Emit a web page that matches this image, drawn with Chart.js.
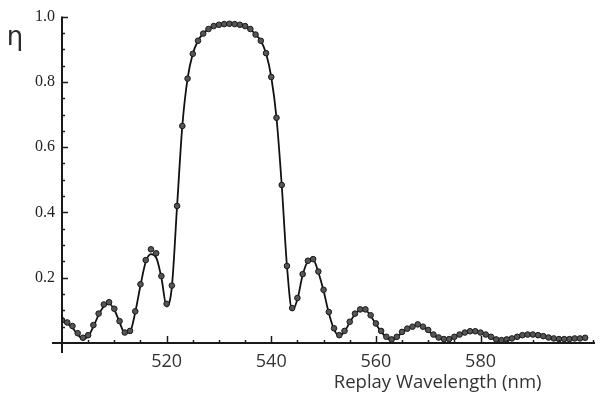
<!DOCTYPE html>
<html>
<head>
<meta charset="utf-8">
<script src="https://cdn.jsdelivr.net/npm/chart.js@4/dist/chart.umd.min.js"></script>
<style>
  html, body { margin: 0; padding: 0; background: #fff; }
  #wrap { width: 601px; height: 403px; position: relative; }
</style>
</head>
<body>
<div id="wrap"><canvas id="chart"></canvas></div>
<script>
// replay wavelength, nm (one measurement per nm)
const wavelengths = [];
for (let nm = 500; nm <= 600; nm++) wavelengths.push(nm);

// measured diffraction efficiency (dots)
const measured = [
  0.070, 0.063, 0.052, 0.030, 0.016, 0.024, 0.055, 0.090, 0.118, 0.125,
  0.105, 0.067, 0.032, 0.037, 0.097, 0.180, 0.254, 0.287, 0.275, 0.205,
  0.120, 0.176, 0.420, 0.665, 0.810, 0.886, 0.926, 0.948, 0.962, 0.971,
  0.975, 0.977, 0.978, 0.977, 0.975, 0.971, 0.962, 0.945, 0.926, 0.888,
  0.815, 0.690, 0.484, 0.236, 0.107, 0.138, 0.211, 0.252, 0.257, 0.219,
  0.163, 0.095, 0.045, 0.024, 0.037, 0.065, 0.090, 0.103, 0.103, 0.085,
  0.060, 0.037, 0.019, 0.011, 0.019, 0.034, 0.044, 0.050, 0.057, 0.050,
  0.040, 0.026, 0.017, 0.012, 0.012, 0.019, 0.026, 0.032, 0.036, 0.036,
  0.032, 0.026, 0.019, 0.011, 0.009, 0.011, 0.014, 0.019, 0.024, 0.026,
  0.026, 0.024, 0.021, 0.017, 0.014, 0.012, 0.012, 0.012, 0.014, 0.014,
  0.016
];

// theory curve (solid line)
const theory = [
  0.066, 0.060, 0.046, 0.026, 0.012, 0.020, 0.050, 0.086, 0.112, 0.120,
  0.102, 0.064, 0.030, 0.034, 0.094, 0.176, 0.248, 0.272, 0.262, 0.200,
  0.112, 0.172, 0.420, 0.665, 0.810, 0.886, 0.926, 0.948, 0.962, 0.971,
  0.975, 0.977, 0.978, 0.977, 0.975, 0.971, 0.962, 0.945, 0.926, 0.888,
  0.815, 0.690, 0.484, 0.236, 0.100, 0.134, 0.208, 0.250, 0.255, 0.217,
  0.160, 0.092, 0.042, 0.022, 0.035, 0.063, 0.088, 0.101, 0.101, 0.083,
  0.058, 0.035, 0.017, 0.009, 0.017, 0.032, 0.043, 0.049, 0.055, 0.048,
  0.038, 0.024, 0.015, 0.010, 0.010, 0.017, 0.024, 0.030, 0.034, 0.034,
  0.030, 0.024, 0.017, 0.009, 0.007, 0.009, 0.012, 0.017, 0.022, 0.024,
  0.024, 0.022, 0.019, 0.015, 0.012, 0.010, 0.010, 0.010, 0.012, 0.012,
  0.014
];

const xLabels = [520, 540, 560, 580];
const yLabels = [0.2, 0.4, 0.6, 0.8, 1.0];

const AXIS_COLOR = "#1a1a1a";

function isNear(v, list) {
  return list.some(t => Math.abs(t - v) < 1e-6);
}

// inward tick marks, extended axis lines and the two axis titles
const axisDecor = {
  id: "axisDecor",
  afterDraw(chart) {
    const { ctx, chartArea: a, scales: { x, y } } = chart;
    ctx.save();
    ctx.strokeStyle = AXIS_COLOR;
    ctx.lineCap = "butt";

    ctx.lineWidth = 2;
    ctx.beginPath();
    ctx.moveTo(a.left, a.top);
    ctx.lineTo(a.left, a.bottom + 10);
    ctx.moveTo(a.left - 10, a.bottom);
    ctx.lineTo(a.right + 2, a.bottom);
    ctx.stroke();

    ctx.lineWidth = 1.5;
    ctx.beginPath();
    y.ticks.forEach(t => {
      if (t.value <= 0) return;
      const py = Math.round(y.getPixelForValue(t.value)) + 0.5;
      const len = isNear(t.value, yLabels) ? 6 : 3;
      ctx.moveTo(a.left, py);
      ctx.lineTo(a.left + len, py);
    });
    x.ticks.forEach(t => {
      if (t.value <= 500) return;
      const px = Math.round(x.getPixelForValue(t.value)) + 0.5;
      const len = isNear(t.value, xLabels) ? 7 : 3;
      ctx.moveTo(px, a.bottom);
      ctx.lineTo(px, a.bottom - len);
    });
    ctx.stroke();

    ctx.fillStyle = "#2a2a2a";
    ctx.font = "26px 'DejaVu Sans'";
    ctx.textAlign = "center";
    ctx.textBaseline = "middle";
    ctx.fillText("η", 15, 38);

    ctx.fillStyle = "#333";
    ctx.font = "18.5px 'Open Sans'";
    ctx.textBaseline = "middle";
    ctx.fillText("Replay Wavelength (nm)", x.getPixelForValue(571.8), 383);
    ctx.restore();
  }
};

new Chart(document.getElementById("chart"), {
  type: "line",
  data: {
    datasets: [
      {
        label: "theory",
        data: wavelengths.map((w, i) => ({ x: w, y: theory[i] })),
        borderColor: "#111",
        borderWidth: 1.8,
        pointRadius: 0,
        cubicInterpolationMode: "monotone",
        fill: false,
        order: 2,
      },
      {
        label: "measured",
        data: wavelengths.map((w, i) => ({ x: w, y: measured[i] })),
        showLine: false,
        pointRadius: 2.8,
        pointBackgroundColor: "#555",
        pointBorderColor: "#1a1a1a",
        pointBorderWidth: 1,
        order: 1,
      }
    ]
  },
  options: {
    responsive: true,
    maintainAspectRatio: false,
    animation: false,
    events: [],
    layout: { padding: { left: 0, top: 13, right: 1, bottom: 0 } },
    plugins: {
      legend: { display: false },
      tooltip: { enabled: false },
    },
    scales: {
      x: {
        type: "linear",
        min: 500,
        max: 601.5,
        border: { display: false },
        grid: { display: false, drawTicks: false },
        ticks: {
          stepSize: 5,
          autoSkip: false,
          maxRotation: 0,
          padding: 8,
          color: "#333",
          font: { family: "Open Sans", size: 18 },
          callback: v => (isNear(v, xLabels) ? String(v) : ""),
        },
        afterFit(scale) { scale.height = 60; },
      },
      y: {
        min: 0,
        max: 1,
        border: { display: false },
        grid: { display: false, drawTicks: false },
        ticks: {
          stepSize: 0.05,
          autoSkip: false,
          padding: 7,
          color: "#222",
          font: { family: "Liberation Serif", size: 16 },
          callback: v => (isNear(v, yLabels) ? v.toFixed(1) : ""),
        },
        afterFit(scale) { scale.width = 62; },
      }
    }
  },
  plugins: [axisDecor]
});
</script>
</body>
</html>
